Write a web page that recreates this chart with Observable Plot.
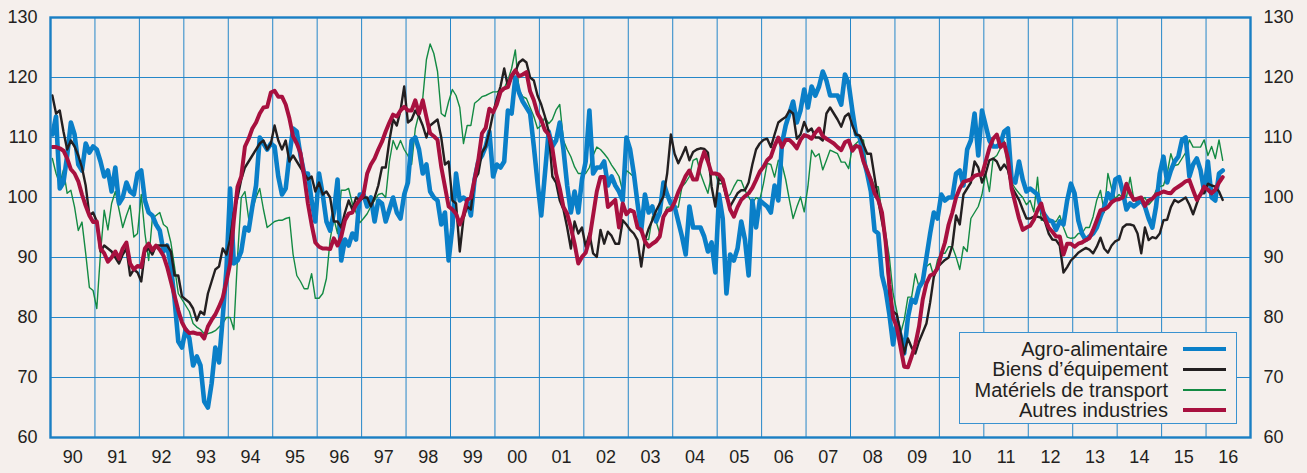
<!DOCTYPE html>
<html>
<head>
<meta charset="utf-8">
<script src="https://cdn.jsdelivr.net/npm/d3@7"></script>
<script src="https://cdn.jsdelivr.net/npm/@observablehq/plot@0.6"></script>
<style>
  html, body { margin: 0; padding: 0; background: #f5efec; }
  #wrap { position: relative; width: 1307px; height: 473px; }
  #legend {
    position: absolute; left: 959px; top: 332px; width: 276px; height: 90px;
    border: 1.5px solid #3a92d0; background: #f5efec;
    font-family: "Liberation Sans", Arial, sans-serif; font-size: 20px; color: #231f20;
  }
  .lrow { position: absolute; left: 0; width: 100%; height: 20px; }
  .lrow span { position: absolute; right: 68px; top: 0; line-height: 20px; white-space: nowrap; }
  .lrow i { position: absolute; left: 223px; width: 43px; top: 10px; display: block; }
</style>
</head>
<body>
<div id="wrap"><div id="chart"></div><div id="legend"></div></div>
<script>
// ---- Data (monthly, Jan 1990 .. May 2016) ----
const startYear = 1990;
const yearLabels = ["90","91","92","93","94","95","96","97","98","99","00","01","02","03","04","05","06","07","08","09","10","11","12","13","14","15","16"];
const yTicks = [60, 70, 80, 90, 100, 110, 120, 130];
const seriesNames = ["Agro-alimentaire", "Biens d’équipement", "Matériels de transport", "Autres industries"];

const agro = [
  110.5,113.5,101.5,102.5,107,112.5,110.5,105.5,104.5,109,107.5,108.5, // 1990
  108,106,103.5,104.5,101,105,99,100,102.5,101,100.5,104,             // 1991
  104.5,99.5,97.5,97,95.5,94.5,91,92,88.5,83,76,75,                   // 1992
  78,76.5,72,73.5,72,66,65,69,75,72.5,80,88,                          // 1993
  101.5,89,89.5,91,95,94.5,98.5,102,110,109,108,109,                  // 1994
  108.5,103.5,100.5,101.5,107,111.5,111,107,104,104,99.5,96,          // 1995
  104,100.5,96,94.5,97.5,103,89.5,93,92,94,93,100.5,                  // 1996
  100.5,98.5,100,96,99.5,99,96,98,100,97.5,96.5,100.5,                // 1997
  102.5,109.5,110,108,104,105.5,101,100,99.5,95.5,97.5,89.5,          // 1998
  95,104,99.5,100,99.5,97,103,106,107,108.5,111,103.5,                // 1999
  105.5,105,106,114.5,114,120,117.5,116,115,114,108.5,102.5,          // 2000
  97,104,111,108.5,109.5,112.5,108,102,97.5,101,97.5,103,             // 2001
  106,114.5,104,105,105,106,102,103.5,102,101,99.5,110,               // 2002
  108,104,99,94.5,100.5,97.5,98.5,96,97.5,102.5,100.5,99,             // 2003
  98.5,96,93.5,90.5,98.5,95,95,95,93.5,91,92.5,87.5,                  // 2004
  100.5,96.5,84,90.5,89.5,91.5,96,93,87,99.5,95,99.5,                 // 2005
  99,98.5,97.5,102,99.5,109,112,114,116,112.5,114.5,118,              // 2006
  115,118.5,117,118.5,121,119.5,117,117,117,115.5,120.5,119,          // 2007
  114.5,110.5,110,106.5,104,101,94.5,94,87,84.5,80.5,75.5,            // 2008
  79.5,77,74,80,83,82.5,85,86,90,94,97.5,96.5,                        // 2009
  100.5,99.5,100,100,104,104.5,102,108,109.5,114,107,114.5,           // 2010
  112,109.5,108.5,108.5,109,111,111.5,103,102.5,106,103,101,          // 2011
  101.5,101,100.5,98,97,96.2,96,94.6,96,95.5,99.5,102.3,              // 2012
  100.7,96.2,94,92.9,93.5,94,95,96.8,98.4,100.7,99.6,103,             // 2013
  103.4,101,98,99,98.5,99,99.6,98.5,96.5,95,98.5,104,                 // 2014
  106.8,102.5,104.5,106,106.8,109.6,110,103.5,105.5,106.5,104.6,101,  // 2015
  106,100,99.5,104,104.5                                              // 2016
];

const biens = [
  117,114,114.5,111,108,109.5,108.5,107,105,102,97,97.5,              // 1990
  96,91,92,91.5,91,90,89,90.5,91.5,87,88,87.5,                        // 1991
  86,91,91.5,90.5,92,92,92,92,91,87,87,83.5,                          // 1992
  83,82.5,81.5,79.5,81,80.5,84,86,88,88.5,91.5,90.5,                  // 1993
  93,97.5,100,103,105,106,107,108,109,109.5,108,109,                  // 1994
  112,109.5,108,109.5,106,107,106,105,104,103,103.5,101,              // 1995
  102.5,100.5,101,100,96,96,95,97.5,99.5,98,100,99.5,                 // 1996
  100,100,98.5,100,102,105,105,109.5,113,112,114.5,118.5,             // 1997
  112.5,113,114.5,113.5,112,110,112,112.5,113,110,105.5,106,          // 1998
  99.5,99,91,96.5,98.5,98,103,104,107.5,108.5,111,114,                // 1999
  116.5,118.5,121.5,118.5,120,121,122.5,123,122.5,120,119.5,117,      // 2000
  115.5,113.5,111,103.5,102.5,99.5,98,95,91.5,96,94,95,               // 2001
  91.8,94,90.7,90.1,94.6,92.3,94.3,93.6,92.3,92.3,96.2,95.5,          // 2002
  94.6,94,92.9,88.5,92.9,94.8,96.2,97.8,99,100.2,104,110.5,           // 2003
  107.3,105.7,107,108.4,106.2,107.6,108,108.2,108.1,107.5,101.8,98.5, // 2004
  103.5,102.5,100,98.5,99.6,100.7,101.2,101.2,102.5,105.5,108,109,    // 2005
  109.6,109.8,108.4,110.5,112.5,113,113.4,114.5,114,109.8,110.5,112.6,// 2006
  111,111.5,110,110,109.5,114,115,114,113,111.8,113.5,114,            // 2007
  112,110.5,110.3,108.8,107.3,107.3,103.4,99.5,96,93,84,81,           // 2008
  80.5,77.5,74,76.5,75,74,76,77.5,79,82.5,86.8,88.4,                  // 2009
  89,89.6,90,92,97,95.5,100.5,101.5,102.5,106,105,102.5,              // 2010
  104,106.2,106.5,106,104.6,105.5,104.6,101.8,100.7,99.6,98,96.5,     // 2011
  96.5,96.8,96.8,96.6,96,94,93,92.9,92,87.5,88.4,89.5,                // 2012
  90.1,90.8,91.2,91.6,91.3,90.7,91.8,93.3,91.5,90.8,92,92.7,          // 2013
  93,95,95.5,95.5,95.3,94,90.7,95,92.9,93.4,93.2,94,                  // 2014
  96.2,96.3,98.4,99.6,99.2,99.6,100,98.8,97.2,99,100.7,100.7,         // 2015
  102.3,102,101.8,101,99.6                                            // 2016
];

const transport = [
  106.5,104,102.3,104.6,100.7,101.2,98.4,94.5,95.9,90.7,85,84.5,      // 1990
  81.5,90.7,97.9,94.6,99,101,98,95,97,98.7,93.4,94,                   // 1991
  100.5,94,89.5,96.5,97,97.5,95.5,95,92.5,88.4,84,83,                 // 1992
  82,81,79,78.4,78,77.3,77.3,77.5,77.8,78.4,79,80,                    // 1993
  80,78,90,100,101,96.5,98,100,101.5,98,95,95.5,                      // 1994
  96,96.2,96.2,96.5,96.7,90.5,87,86,84.8,84.8,87.3,83.2,              // 1995
  83.2,84,86.5,93,96.5,94,101.2,101.2,101.5,99,97.5,95.8,             // 1996
  96.5,97.3,98.5,99.5,100.5,100.7,100,106,109.5,108,109.5,108,        // 1997
  107,105.5,111.5,114,116.5,123,125.6,124,121,114,113.5,116,          // 1998
  118,117,115,109,112,112,115.7,116.2,116.8,117,117.3,117.6,          // 1999
  117.6,117.9,118.2,119.6,121.5,124.6,117.9,116.8,116.5,115,113.5,111.5, // 2000
  112,113.4,112.3,113,114.6,115.5,109.5,108,106.8,105.1,104,104,      // 2001
  104,105,107,108.4,108,107.3,106.5,105.4,104.5,103.5,101,104.5,      // 2002
  104,103.4,99,94.5,93,93,96.8,96,94,97,98.4,98.4,                    // 2003
  98.4,98.4,101.8,102.5,103.5,106.2,106.5,104,102.3,100.7,104,104,    // 2004
  102.3,102.3,100,100.5,101.8,102.9,102.8,101.2,100.1,99,100,99.6,    // 2005
  102.3,105.7,105.5,103.4,106.2,105.5,103,99.6,96.5,98.4,100.1,97.6,  // 2006
  101.8,107.9,106.8,107.3,104.6,106.2,107.9,107.6,107.3,105.9,105.9,104.8, // 2007
  108.4,109,109.6,109.6,104,103.4,101.8,101.8,97.3,94,90,84,          // 2008
  81,77.3,79.6,83.4,83.4,87.3,85.1,86.8,88.5,89,86.8,89.6,            // 2009
  90.7,90.7,91.8,91.8,90.1,88,91.8,91,96.5,97.5,98.5,100.5,           // 2010
  104,101,106.5,107,108.2,109.4,104.5,102.5,101.5,100.7,100,98.8,     // 2011
  99.5,97.6,103.4,96.2,96.5,96.5,96,96,97,95,93.4,93.2,               // 2012
  93.3,94,94,95,95,96.8,99.6,101.2,97.5,104,101.5,99.8,               // 2013
  100.5,100,100,103.4,99.6,99.2,99.5,100,98.8,99.5,101.2,101.8,       // 2014
  102,104,107.3,105.3,105.5,106.5,107.5,109.6,108.4,108.4,108.4,109.6,// 2015
  107,108.5,106.5,109.6,106.2                                         // 2016
];

const autres = [
  108.4,108.4,108.2,107.8,106.5,104.7,104,102.7,100.5,98.6,97,95.9,   // 1990
  96,91.5,90.7,89.3,90,91,89.8,91.5,92.5,89,88,88.6,                  // 1991
  88.4,91.5,92.3,91.2,92,91.3,90.3,88.4,86,83.6,81.2,79.2,            // 1992
  78,77.4,77.5,77.3,77.3,76.5,78.5,79.6,80.5,81.8,83.3,86,            // 1993
  89,96.2,101.8,103.5,108.5,109.8,111.5,112.5,114,115,115.1,117.5,    // 1994
  117.8,116.8,116.8,115.5,113.2,110.2,109,107.4,103.5,99,95.5,92.5,   // 1995
  91.8,91.5,91.5,91.4,93.2,92,93.5,96.2,97.3,97.5,98.8,99.6,          // 1996
  100.5,104,105.5,106.5,108,109.3,111,112.5,113.8,113.5,114.5,115.1,  // 1997
  114.5,114.5,116.2,114,116.2,113.4,110.7,110.2,109.6,105.1,101.8,98.5, // 1998
  98,97.3,95.5,97,99.6,100,103,106.2,110.7,111.6,114.8,114.2,         // 1999
  115.5,117.6,118.2,118.4,120.3,121.2,120.2,120.5,120.9,117.7,116.2,114, // 2000
  112.9,111.2,110.5,108.2,104,101.5,98.4,97.3,95,92.3,89,90.1,        // 2001
  90.8,93,97,101,103.4,103.4,98.4,99,99.6,95,99,97.2,                 // 2002
  97.9,97.6,95,94.6,92.7,91.8,92.3,92.7,93.5,96.8,97.8,98,            // 2003
  99.2,100.9,102.2,103.6,104.5,103,103,105.7,107.6,106,104,104,       // 2004
  103.8,103,100.5,98,96.8,98.4,99.6,100.2,100.7,101.6,102.9,104.3,    // 2005
  105.1,106.2,106.8,108.6,110,108.4,109.6,109.6,109,108.2,109.6,110.4,// 2006
  110.2,109.8,110.8,111.5,110.2,109.8,109.4,109,108.4,107.9,109.2,109.5, // 2007
  107.8,108.6,108.4,106,104.5,102.9,100.7,99.6,97.5,92.5,85.5,80,     // 2008
  78.4,75.1,71.8,71.7,73.5,75.5,78.5,83,85.7,87,87.3,88.2,            // 2009
  90.5,92.5,95.5,97.5,100,101.5,102.6,102.8,103,103.6,103.8,103.8,    // 2010
  106,108.2,109.8,110.5,108.4,109,106.5,101.5,99,96.5,94.6,95,        // 2011
  95.3,96.3,97.9,99,96.5,95,94.3,93.5,93.5,90.5,92.3,92.3,            // 2012
  91.8,92.3,92.5,92.9,93.2,94.6,96.2,97.9,98,98.4,99.2,99.6,          // 2013
  99.7,100,102.3,100.7,99.6,99.8,100,98.6,99.5,99.8,100.5,100.7,      // 2014
  101,100.8,100.7,101.4,101.8,102.2,102.7,102.9,101.2,99.6,100.5,101.8, // 2015
  101.3,100.7,101.3,102.5,103.4                                       // 2016
];

// ---- Styles ----
const colors = {"Agro-alimentaire": "#0a7fc8", "Biens d’équipement": "#231f20", "Matériels de transport": "#138a43", "Autres industries": "#a8103f"};
const widths = {"Agro-alimentaire": 4.6, "Biens d’équipement": 2.4, "Matériels de transport": 1.4, "Autres industries": 4};
const drawOrder = ["Matériels de transport", "Agro-alimentaire", "Biens d’équipement", "Autres industries"];
const gridColor = "#2586c8";
const frameColor = "#1a7fc4";

const valuesBySeries = {
  "Agro-alimentaire": agro,
  "Biens d’équipement": biens,
  "Matériels de transport": transport,
  "Autres industries": autres
};
const toRows = (name) => valuesBySeries[name].map((v, i) => ({t: startYear + (i + 0.5) / 12, v, s: name}));

const years = d3.range(startYear, startYear + yearLabels.length);

const chart = Plot.plot({
  width: 1307,
  height: 473,
  marginLeft: 50,
  marginRight: 57,
  marginTop: 17,
  marginBottom: 36,
  style: {background: "#f5efec", fontFamily: "'Liberation Sans', Arial, sans-serif", fontSize: "18px", color: "#231f20", overflow: "visible"},
  x: {domain: [startYear, startYear + yearLabels.length]},
  y: {domain: [yTicks[0], yTicks[yTicks.length - 1]]},
  marks: [
    Plot.gridX(years.slice(1), {stroke: gridColor, strokeOpacity: 1, strokeWidth: 1}),
    Plot.gridY(yTicks.slice(1, -1), {stroke: gridColor, strokeOpacity: 1, strokeWidth: 1}),
    ...drawOrder.map(name => Plot.line(toRows(name), {
      x: "t", y: "v", stroke: colors[name], strokeWidth: widths[name],
      strokeLinejoin: "round", strokeLinecap: "round"
    })),
    Plot.frame({stroke: frameColor, strokeWidth: 2.4}),
    Plot.axisY(yTicks, {anchor: "left", tickSize: 0, tickPadding: 13, label: null, fontSize: 18, fill: "#231f20"}),
    Plot.axisY(yTicks, {anchor: "right", tickSize: 0, tickPadding: 13, label: null, fontSize: 18, fill: "#231f20"}),
    Plot.axisX(years.map(y => y + 0.5), {
      anchor: "bottom", tickSize: 0, tickPadding: 13, label: null, fontSize: 18, fill: "#231f20",
      tickFormat: (d) => yearLabels[Math.floor(d) - startYear]
    })
  ]
});
document.getElementById("chart").appendChild(chart);

// ---- Legend (overlay inside plot area) ----
const legend = document.getElementById("legend");
seriesNames.forEach((name, k) => {
  const row = document.createElement("div");
  row.className = "lrow";
  row.style.top = (6 + k * 20.4) + "px";
  const span = document.createElement("span");
  span.textContent = name;
  const sw = document.createElement("i");
  sw.style.height = widths[name] + "px";
  sw.style.marginTop = (-widths[name] / 2) + "px";
  sw.style.background = colors[name];
  row.appendChild(span);
  row.appendChild(sw);
  legend.appendChild(row);
});
</script>
</body>
</html>
